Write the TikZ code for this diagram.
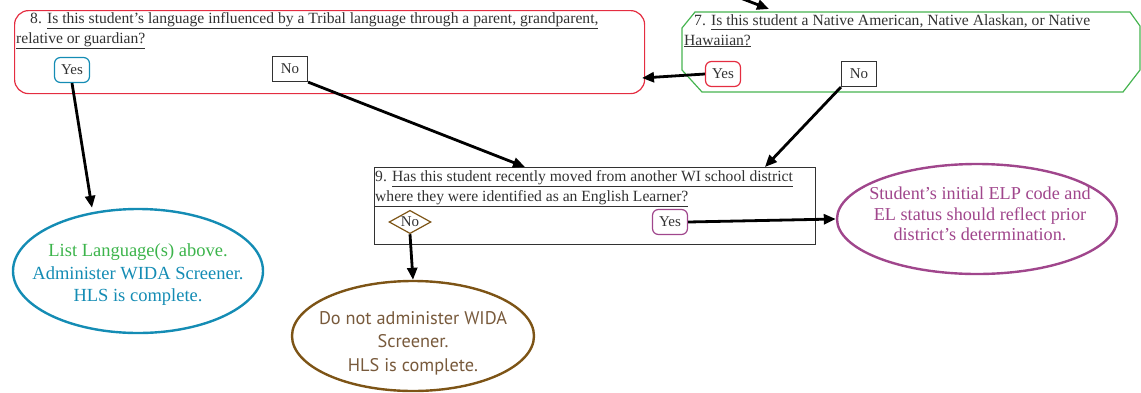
\documentclass[tikz,border=0pt]{standalone}
\usepackage{fontspec}
\setmainfont{Liberation Serif}
\newfontfamily\brownfont{PT Sans}
\usetikzlibrary{arrows.meta,shapes.geometric}
\definecolor{redb}{RGB}{228,45,65}
\definecolor{greenb}{RGB}{70,180,80}
\definecolor{tealb}{RGB}{20,140,180}
\definecolor{greent}{RGB}{60,180,75}
\definecolor{purpleb}{RGB}{160,70,140}
\definecolor{brownb}{RGB}{125,84,22}
\definecolor{browntxt}{RGB}{120,90,60}
\definecolor{txt}{RGB}{50,50,50}
\tikzset{
  qtext/.style={font=\fontsize{15.6}{20}\selectfont, text=txt, align=left, inner sep=0pt},
  ansbox/.style={draw, line width=1.2pt, font=\fontsize{15}{16}\selectfont, text=txt, minimum width=35pt, minimum height=25pt, inner sep=2pt},
  arr/.style={line width=2.8pt, -{Triangle[length=12pt,width=10pt]}},
  ell/.style={ellipse, line width=2.4pt, align=center, inner sep=0pt}
}
\begin{document}
\begin{tikzpicture}[x=1pt,y=-1pt]
\useasboundingbox (0,0) rectangle (1141,392);
% Box 8
\node[draw=redb, line width=1.2pt, rounded corners=14pt, minimum width=630pt, minimum height=83pt, anchor=north west] (box8) at (14,10) {};
\node[qtext, anchor=north west] (q8) at (16,12) {\hspace*{14pt}8. \underline{Is this student's language influenced by a Tribal language through a parent, grandparent,}\\\underline{relative or guardian?}};
\node[ansbox, draw=tealb, rounded corners=6pt] (yes8) at (72,70) {Yes};
\node[ansbox, draw=txt] (no8) at (290,69) {No};
% Box 7
\draw[greenb, line width=1.2pt] (695,12) -- (1130,12) -- (1140,26) -- (1140,70) -- (1123,92) -- (702,92) -- (682,70) -- (682,28) -- cycle;
\coordinate (box7r) at (642,78);
\node[qtext, anchor=north west] (q7) at (684,14) {\hspace*{10pt}7. \underline{Is this student a Native American, Native Alaskan, or Native}\\\underline{Hawaiian?}};
\node[ansbox, draw=redb, rounded corners=6pt] (yes7) at (723,74) {Yes};
\node[ansbox, draw=txt] (no7) at (859,74) {No};
\coordinate (top7from) at (730,-6);
\coordinate (top7to) at (769,9);
% Box 9
\node[draw=txt, line width=1.2pt, minimum width=441pt, minimum height=77pt, anchor=north west] (box9) at (374,167) {};
\node[qtext, anchor=north west] (q9) at (375,170) {9. \underline{Has this student recently moved from another WI school district}\\\underline{where they were identified as an English Learner?}};
\node[diamond, draw=brownb, line width=1.2pt, aspect=1.8, inner sep=1pt, font=\fontsize{15}{16}\selectfont, text=txt] (no9) at (410,222) {No};
\node[ansbox, draw=purpleb, rounded corners=6pt] (yes9) at (670,222) {Yes};
% Ellipses
\node[ell, draw=tealb, minimum width=250pt, minimum height=124pt] (e1) at (138,271) {};
\node[align=center, font=\fontsize{18.5}{22.5}\selectfont, text=tealb] (t1) at (138,275) {\textcolor{greent}{List Language(s) above.}\\Administer WIDA Screener.\\HLS is complete.};
\node[ell, draw=brownb, minimum width=242pt, minimum height=110pt] (e2) at (413,336) {};
\node[align=center, font=\brownfont\fontsize{18.3}{23.5}\selectfont, text=browntxt] (t2) at (413,343) {Do not administer WIDA\\Screener.\\HLS is complete.};
\node[ell, draw=purpleb, minimum width=280pt, minimum height=110pt] (e3) at (977,219) {};
\node[align=center, font=\fontsize{18.2}{20.5}\selectfont, text=purpleb] (t3) at (980,214) {Student's initial ELP code and\\EL status should reflect prior\\district's determination.};
% Arrows
\draw[arr] (yes7.west) -- (box7r);
\draw[arr] (top7from) -- (top7to);
\draw[arr] (yes8.south) -- (e1.north -| 92,0);
\draw[arr] (no8.south east) -- (box9.north -| 525,0);
\draw[arr] (no7.south west) -- (box9.north -| 765,0);
\draw[arr] (yes9.east) -- (e3.west);
\draw[arr] (no9.south) -- (e2.north);
\end{tikzpicture}
\end{document}
